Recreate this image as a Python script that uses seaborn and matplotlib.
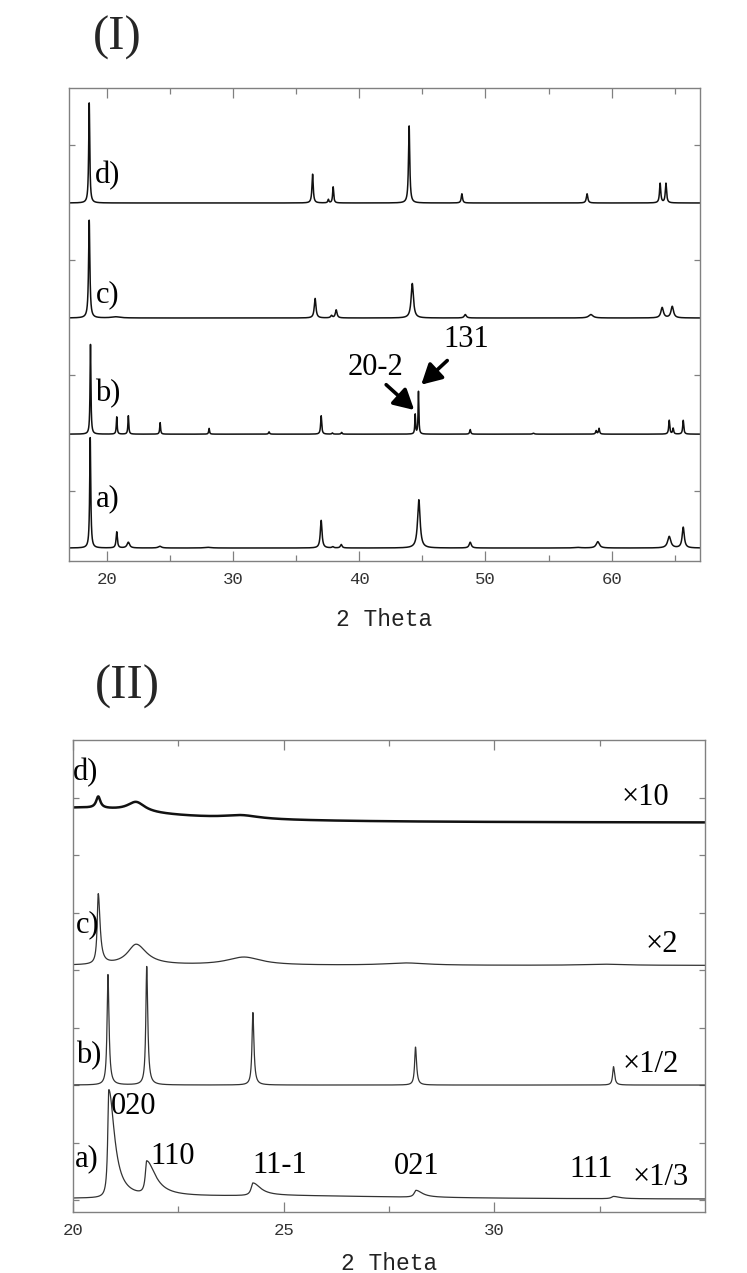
import numpy as np
import matplotlib
matplotlib.use("Agg")
import matplotlib.pyplot as plt
import seaborn as sns

sns.set_style("ticks")
plt.rcParams["font.family"] = ["Liberation Serif", "DejaVu Serif"]

# ---------------- Panel (I): wide-range patterns, 2-theta 17-67 ----------------
# each trace: vertical offset, peak positions, heights, half-widths
I_a_offset = 0.0
I_a_pos = [18.68, 20.78, 21.70, 24.20, 28.00, 36.98, 37.90, 38.57, 44.72, 48.79, 57.30, 58.90, 64.56, 65.67]
I_a_hgt = [0.96, 0.14, 0.05, 0.015, 0.006, 0.24, 0.01, 0.03, 0.42, 0.05, 0.005, 0.055, 0.10, 0.18]
I_a_wid = [0.05, 0.06, 0.12, 0.15, 0.30, 0.08, 0.08, 0.08, 0.12, 0.10, 0.30, 0.15, 0.15, 0.10]

I_b_offset = 0.99
I_b_pos = [18.70, 20.78, 21.70, 24.22, 28.10, 32.85, 36.98, 37.87, 38.60, 44.43, 44.69, 48.79, 53.80, 58.77, 59.00, 64.56, 64.87, 65.67]
I_b_hgt = [0.78, 0.15, 0.16, 0.10, 0.05, 0.02, 0.16, 0.01, 0.015, 0.17, 0.37, 0.04, 0.008, 0.03, 0.05, 0.12, 0.05, 0.12]
I_b_wid = [0.04, 0.04, 0.04, 0.04, 0.04, 0.05, 0.05, 0.05, 0.05, 0.035, 0.035, 0.05, 0.08, 0.05, 0.05, 0.05, 0.05, 0.05]

I_c_offset = 2.0
I_c_pos = [18.60, 20.70, 36.50, 37.80, 38.17, 44.20, 48.40, 58.35, 64.00, 64.80]
I_c_hgt = [0.85, 0.01, 0.17, 0.02, 0.07, 0.30, 0.03, 0.03, 0.09, 0.10]
I_c_wid = [0.06, 0.40, 0.08, 0.08, 0.08, 0.11, 0.10, 0.20, 0.12, 0.12]

I_d_offset = 3.0
I_d_pos = [18.60, 36.30, 37.55, 37.93, 43.95, 48.13, 58.05, 63.84, 64.30]
I_d_hgt = [0.87, 0.25, 0.03, 0.14, 0.67, 0.08, 0.08, 0.17, 0.17]
I_d_wid = [0.05, 0.06, 0.05, 0.05, 0.06, 0.06, 0.07, 0.06, 0.06]

I_labels = ["a)", "b)", "c)", "d)"]
I_label_x = [20.05, 20.05, 20.05, 20.05]
I_label_y = [0.43, 1.34, 2.20, 3.24]

I_xticks = [20, 30, 40, 50, 60]

# ---------------- Panel (II): low-angle region, 2-theta 20-35 ----------------
II_a_offset = 0.005
II_a_pos = [20.85, 21.75, 24.27, 28.14, 32.83, 25.0]
II_a_hgt = [0.94, 0.29, 0.11, 0.06, 0.02, 0.03]
II_a_wl = [0.03, 0.04, 0.05, 0.05, 0.06, 4.0]
II_a_wr = [0.16, 0.25, 0.22, 0.18, 0.18, 4.0]

II_b_offset = 1.0
II_b_pos = [20.83, 21.75, 24.27, 28.13, 32.83]
II_b_hgt = [0.96, 1.03, 0.63, 0.33, 0.16]
II_b_wl = [0.025, 0.025, 0.025, 0.025, 0.025]
II_b_wr = [0.03, 0.03, 0.03, 0.03, 0.03]

II_c_offset = 2.04
II_c_pos = [20.60, 21.50, 24.06, 27.90, 32.60]
II_c_hgt = [0.61, 0.18, 0.07, 0.02, 0.01]
II_c_wl = [0.03, 0.25, 0.50, 0.60, 0.60]
II_c_wr = [0.05, 0.30, 0.50, 0.60, 0.60]

II_d_offset = 3.28
II_d_pos = [20.00, 20.60, 21.50, 24.00]
II_d_hgt = [0.13, 0.10, 0.085, 0.03]
II_d_wl = [2.5, 0.06, 0.25, 0.50]
II_d_wr = [2.5, 0.06, 0.25, 0.50]

II_labels = ["a)", "b)", "c)", "d)"]
II_label_x = [20.32, 20.37, 20.34, 20.30]
II_label_y = [0.36, 1.26, 2.39, 3.72]

II_hkl = ["020", "110", "11-1", "021", "111"]
II_hkl_x = [21.44, 22.36, 24.90, 28.16, 32.29]
II_hkl_y = [0.81, 0.38, 0.30, 0.29, 0.27]

II_scale = ["\u00d71/3", "\u00d71/2", "\u00d72", "\u00d710"]
II_scale_x = [33.96, 33.72, 33.98, 33.58]
II_scale_y = [0.20, 1.18, 2.22, 3.50]

II_xticks = [20, 25, 30]


def profile(x, offset, pos, hgt, wl, wr):
    """Sum of (asymmetric) Lorentzian reflections on a flat baseline."""
    y = np.full_like(x, offset, dtype=float)
    for p, h, a, b in zip(pos, hgt, wl, wr):
        d = x - p
        g = np.where(d < 0, a, b)
        y = y + h / (1.0 + (d / g) ** 2)
    return y


fig = plt.figure(figsize=(7.47, 12.73), dpi=100)
ax1 = fig.add_axes([0.0924, 0.5593, 0.8447, 0.3716])
ax2 = fig.add_axes([0.0977, 0.0479, 0.8460, 0.3708])

frame_col = "#808080"
tick_font = dict(family=["Liberation Mono", "DejaVu Sans Mono"], size=12.5, color="#333333")
xlabel_font = dict(family=["Liberation Mono", "DejaVu Sans Mono"], size=16.5, color="#222222")


def style_axes(ax):
    for s in ax.spines.values():
        s.set_color(frame_col)
        s.set_linewidth(1.0)
    ax.tick_params(axis="both", which="both", direction="in", colors=frame_col,
                   top=True, right=True, left=True, bottom=True)
    ax.tick_params(axis="x", which="major", length=7, width=0.9, pad=8)
    ax.tick_params(axis="x", which="minor", length=4, width=0.9)
    ax.tick_params(axis="y", which="major", length=4.5, width=0.9)
    ax.set_yticklabels([])
    for lab in ax.get_xticklabels():
        lab.set_fontfamily(tick_font["family"])
        lab.set_fontsize(tick_font["size"])
        lab.set_color(tick_font["color"])


# ---- Panel (I)
x1 = np.linspace(17, 67, 25001)
traces_I = [
    (I_a_offset, I_a_pos, I_a_hgt, I_a_wid),
    (I_b_offset, I_b_pos, I_b_hgt, I_b_wid),
    (I_c_offset, I_c_pos, I_c_hgt, I_c_wid),
    (I_d_offset, I_d_pos, I_d_hgt, I_d_wid),
]
for off, pos, hgt, wid in traces_I:
    y = profile(x1, off, pos, hgt, wid, wid)
    sns.lineplot(x=x1, y=y, ax=ax1, color="#111111", linewidth=1.1,
                 estimator=None, errorbar=None, sort=False)

ax1.set_xlim(17, 67)
ax1.set_ylim(-0.113, 4.0)
ax1.set_xticks(I_xticks)
ax1.set_xticks(np.arange(25, 70, 10), minor=True)
ax1.set_yticks(np.arange(0.5, 4.0, 1.0))
style_axes(ax1)
ax1.set_xlabel("2 Theta", fontdict=xlabel_font, labelpad=15)
ax1.set_ylabel("")

for t, xx, yy in zip(I_labels, I_label_x, I_label_y):
    ax1.text(xx, yy, t, fontsize=22, ha="center", va="center", color="black")

ax1.text(41.26, 1.57, "20-2", fontsize=22, ha="center", va="center", color="black")
ax1.text(48.47, 1.81, "131", fontsize=22, ha="center", va="center", color="black")
arrow_kw = dict(arrowstyle="-|>,head_length=0.55,head_width=0.3", color="black",
                lw=2.6, mutation_scale=22, shrinkA=0, shrinkB=0)
ax1.annotate("", xy=(44.35, 1.20), xytext=(42.13, 1.42), arrowprops=arrow_kw)
ax1.annotate("", xy=(44.91, 1.42), xytext=(46.97, 1.63), arrowprops=arrow_kw)

# ---- Panel (II)
x2 = np.linspace(20, 35, 30001)
traces_II = [
    (II_a_offset, II_a_pos, II_a_hgt, II_a_wl, II_a_wr, 0.9, "#333333"),
    (II_b_offset, II_b_pos, II_b_hgt, II_b_wl, II_b_wr, 0.9, "#333333"),
    (II_c_offset, II_c_pos, II_c_hgt, II_c_wl, II_c_wr, 0.9, "#333333"),
    (II_d_offset, II_d_pos, II_d_hgt, II_d_wl, II_d_wr, 1.8, "#111111"),
]
for off, pos, hgt, wl, wr, lw, col in traces_II:
    y = profile(x2, off, pos, hgt, wl, wr)
    sns.lineplot(x=x2, y=y, ax=ax2, color=col, linewidth=lw,
                 estimator=None, errorbar=None, sort=False)

ax2.set_xlim(20, 35)
ax2.set_ylim(-0.104, 4.0)
ax2.set_xticks(II_xticks)
ax2.set_xticks([22.5, 27.5, 32.5], minor=True)
ax2.set_yticks(np.arange(0.0, 4.0, 0.5))
style_axes(ax2)
ax2.set_xlabel("2 Theta", fontdict=xlabel_font, labelpad=10)
ax2.set_ylabel("")

for t, xx, yy in zip(II_labels, II_label_x, II_label_y):
    ax2.text(xx, yy, t, fontsize=22, ha="center", va="center", color="black")
for t, xx, yy in zip(II_hkl, II_hkl_x, II_hkl_y):
    ax2.text(xx, yy, t, fontsize=22, ha="center", va="center", color="black")
for t, xx, yy in zip(II_scale, II_scale_x, II_scale_y):
    ax2.text(xx, yy, t, fontsize=22, ha="center", va="center", color="black")

# panel titles
fig.text(117 / 747, 1 - 38 / 1273, "(I)", fontsize=35, ha="center", va="center")
fig.text(127 / 747, 1 - 687 / 1273, "(II)", fontsize=35, ha="center", va="center")

fig.savefig("out.png", dpi=100, facecolor="white")
